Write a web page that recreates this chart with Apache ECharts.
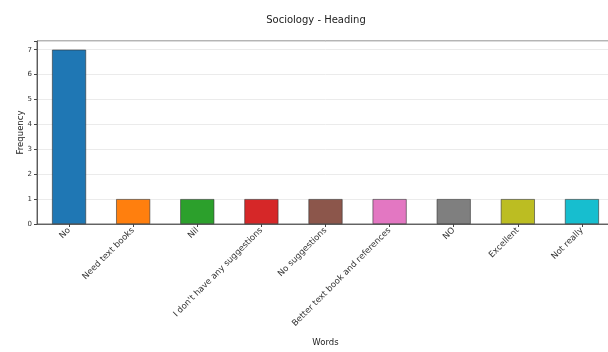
<!DOCTYPE html>
<html>
<head>
<meta charset="utf-8">
<script src="https://cdn.jsdelivr.net/npm/echarts@6/dist/echarts.min.js"></script>
<style>html,body{margin:0;padding:0;background:#fff;overflow:hidden;width:608px;height:352px;}#c{width:620px;height:352px;}</style>
</head>
<body>
<div id="c"></div>
<script>
var categories = ["No", "Need text books", "Nil", "I don't have any suggestions", "No suggestions", "Better text book and references", "NO", "Excellent", "Not really"];
var frequency = [7, 1, 1, 1, 1, 1, 1, 1, 1];
var yTicks = [0, 1, 2, 3, 4, 5, 6, 7];
var palette = ["#1f77b4", "#ff7f0e", "#2ca02c", "#d62728", "#8c564b", "#e377c2", "#7f7f7f", "#bcbd22", "#17becf"];

var chart = echarts.init(document.getElementById('c'), null, {renderer: 'canvas'});
var font = 'DejaVu Sans';
chart.setOption({
  animation: false,
  backgroundColor: '#fff',
  title: {
    text: 'Sociology - Heading',
    left: 311, top: 10, textAlign: 'center',
    textStyle: {fontFamily: font, fontSize: 10, fontWeight: 'normal', color: '#222'}
  },
  grid: {left: 37, right: 6, top: 41, bottom: 127, show: true, borderColor: '#444', borderWidth: 0.8, containLabel: false},
  xAxis: {
    type: 'category',
    data: categories,
    name: 'Words', nameLocation: 'middle', nameGap: 114,
    nameTextStyle: {fontFamily: font, fontSize: 8.5, color: '#222'},
    axisLine: {show: true, lineStyle: {color: '#444', width: 0.8}},
    axisTick: {show: true, alignWithLabel: true, length: 3, lineStyle: {color: '#444'}},
    axisLabel: {rotate: 45, interval: 0, fontFamily: font, fontSize: 8.5, color: '#333', margin: 5},
    splitLine: {show: false}
  },
  yAxis: {
    type: 'value', min: 0, max: 7.35, interval: 1,
    name: 'Frequency', nameLocation: 'middle', nameGap: 12, nameMoveOverlap: false,
    nameTextStyle: {fontFamily: font, fontSize: 8.5, color: '#222'},
    axisLine: {show: true, lineStyle: {color: '#444', width: 0.8}},
    axisTick: {show: true, length: 3, lineStyle: {color: '#444'}},
    axisLabel: {fontFamily: font, fontSize: 7, color: '#333', margin: 5,
      formatter: function (v) { return yTicks.indexOf(v) >= 0 ? String(v) : ''; }},
    splitLine: {show: true, lineStyle: {color: '#e6e6e6', width: 0.8}}
  },
  series: [{
    type: 'bar',
    barWidth: '53%',
    data: frequency.map(function (v, i) {
      return {value: v, itemStyle: {color: palette[i % palette.length], borderColor: '#333', borderWidth: 0.6}};
    })
  }]
});
</script>
</body>
</html>
